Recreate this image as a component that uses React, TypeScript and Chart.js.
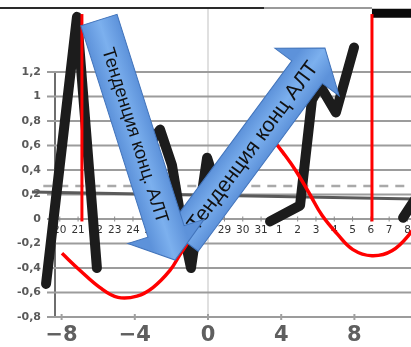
import React, { useEffect, useRef } from 'react';
import { Chart, registerables } from 'chart.js';

Chart.register(...registerables);

// ---------- data ----------
const xTickValues = [-8, -4, 0, 4, 8, 12];
const yTickValues = [-0.8, -0.6, -0.4, -0.2, 0, 0.2, 0.4, 0.6, 0.8, 1, 1.2];
const dayLabels = ['20', '21', '22', '23', '24', '25', '26', '27', '28', '29', '30', '31', '1', '2', '3', '4', '5', '6', '7', '8'];
const dayFirstX = -8.1;

// thick black series (null = break)
const altX = [-8.85, -7.16, -6.07, -4.8, -3.44, -2.62, -1.97, -1.42, -0.93, -0.05, 0.77, 2.0, 3.39, 5.03, 5.68, 6.12, 6.99, 7.98, 9.3, 10.66, 11.31];
const altY = [-0.53, 1.65, -0.4, null, 0.56, 0.73, 0.44, -0.05, -0.4, 0.5, 0.11, null, -0.02, 0.11, 0.97, 1.09, 0.87, 1.4, null, 0.01, 0.16];

// red wave
const waveX = [-7.98, -6.99, -5.9, -4.92, -3.88, -3.01, -2.08, -1.53, -0.49, 0.98, 2.3, 3.0, 3.55, 4.21, 4.86, 5.57, 6.23, 7.05, 7.92, 8.96, 10.05, 11.09, 11.86];
const waveY = [-0.28, -0.42, -0.56, -0.64, -0.63, -0.56, -0.42, -0.29, -0.05, 0.32, 0.58, 0.7, 0.64, 0.52, 0.38, 0.2, 0.03, -0.12, -0.25, -0.3, -0.26, -0.11, 0.06];

// red markers (vertical arrows)
const markerX = [-6.89, 8.96];
const markerBottom = -0.02;
const markerTop = 1.673;

// reference lines
const dashedX = [-9.0, 12.8];
const dashedY = [0.27, 0.27];
const trendX = [-9.62, 12.8];
const trendY = [0.22, 0.159];

// frame pieces at the top
const topBlackX = [-11.6, 3.06];
const topGrayX = [3.06, 8.96];
const topRuleY = [1.722, 1.722];
const topBandX = [8.96, 12.9];
const topBandY = [1.68, 1.68];
const zeroLineX = [0, 0];
const zeroLineY = [-0.8, 1.722];

// trend arrows (data coordinates)
const arrowFromX = [-1.37, -5.96];
const arrowFromY = [-0.171, 1.624];
const arrowToX = [6.39, -1.8];
const arrowToY = [1.396, -0.335];
const arrowText = ['Тенденция конц АЛТ', 'Тенденция конц. АЛТ'];

const PX_PER_X = 18.3;
const xMin = (55 - 208) / PX_PER_X;
const xMax = (440 - 208) / PX_PER_X;
const gridStartX = xMin - 8 / PX_PER_X;

const pts = (xs: number[], ys: (number | null)[]) => xs.map((x, i) => ({ x, y: ys[i] }));

function drawBlockArrow(ctx: CanvasRenderingContext2D, x1: number, y1: number, x2: number, y2: number, text: string, textLen: number, textPos: number) {
  const shaftW = 38, headW = 80, headL = 30;
  const len = Math.hypot(x2 - x1, y2 - y1);
  const ang = Math.atan2(y2 - y1, x2 - x1);
  ctx.save();
  ctx.translate(x1, y1);
  ctx.rotate(ang);
  ctx.beginPath();
  ctx.moveTo(0, -shaftW / 2);
  ctx.lineTo(len - headL, -shaftW / 2);
  ctx.lineTo(len - headL, -headW / 2);
  ctx.lineTo(len, 0);
  ctx.lineTo(len - headL, headW / 2);
  ctx.lineTo(len - headL, shaftW / 2);
  ctx.lineTo(0, shaftW / 2);
  ctx.closePath();
  const g = ctx.createLinearGradient(0, -shaftW / 2, 0, shaftW / 2);
  g.addColorStop(0, '#5d92da');
  g.addColorStop(0.5, '#7cb0ee');
  g.addColorStop(1, '#5d92da');
  ctx.fillStyle = g;
  ctx.fill();
  ctx.strokeStyle = '#4274bb';
  ctx.lineWidth = 1;
  ctx.stroke();
  ctx.font = '20px "Liberation Sans", Arial, sans-serif';
  const w = ctx.measureText(text).width;
  const size = 20 * textLen / w;
  ctx.font = `${size.toFixed(1)}px "Liberation Sans", Arial, sans-serif`;
  ctx.fillStyle = '#111';
  ctx.textAlign = 'center';
  ctx.textBaseline = 'middle';
  ctx.fillText(text, len * textPos, 1);
  ctx.restore();
}

const arrowPlugin = {
  id: 'trendArrows',
  afterDatasetsDraw(chart: any) {
    const { ctx } = chart;
    const xs = chart.scales.x;
    const ys = chart.scales.y;
    const lens = [205, 183];
    const poss = [0.49, 0.48];
    for (let i = 0; i < arrowText.length; i++) {
      drawBlockArrow(
        ctx,
        xs.getPixelForValue(arrowFromX[i]), ys.getPixelForValue(arrowFromY[i]),
        xs.getPixelForValue(arrowToX[i]), ys.getPixelForValue(arrowToY[i]),
        arrowText[i], lens[i], poss[i]
      );
    }
  },
};

const fmtY = (v: number) => String(Math.round(v * 10) / 10).replace('.', ',');
const fmtX = (v: number) => (v < 0 ? '\u2212' + Math.abs(v) : String(v));
const clear = 'rgba(0,0,0,0)';

export default function App() {
  const ref = useRef<HTMLCanvasElement>(null);
  useEffect(() => {
    const base = { pointRadius: 0, clip: false as any, fill: false };
    const gridSets = yTickValues.map((v) => ({
      ...base,
      data: [{ x: gridStartX, y: v }, { x: xMax, y: v }],
      borderColor: '#9c9c9c',
      borderWidth: 2,
      order: 30,
    }));
    const tickMarks = [
      {
        ...base,
        data: xTickValues.map((v) => ({ x: v, y: -0.8 })),
        showLine: false,
        pointRadius: 3,
        pointStyle: 'line',
        rotation: 90,
        pointBorderColor: '#a0a0a0',
        pointBorderWidth: 2,
        order: 29,
      },
      {
        ...base,
        data: dayLabels.map((_, i) => ({ x: dayFirstX + i, y: 0 })),
        showLine: false,
        pointRadius: 2.5,
        pointStyle: 'line',
        rotation: 90,
        pointBorderColor: '#8a8a8a',
        pointBorderWidth: 1,
        order: 29,
      },
    ];
    const datasets: any[] = [
      ...gridSets,
      ...tickMarks,
      { ...base, data: pts(zeroLineX, zeroLineY), borderColor: '#d6d6d6', borderWidth: 1.5, order: 31 },
      { ...base, data: pts(topBlackX, topRuleY), borderColor: '#2a2a2a', borderWidth: 2, order: 19 },
      { ...base, data: pts(topGrayX, topRuleY), borderColor: '#9a9a9a', borderWidth: 2, order: 19 },
      { ...base, data: pts(topBandX, topBandY), borderColor: '#0a0a0a', borderWidth: 9, order: 19 },
      { ...base, data: pts(dashedX, dashedY), borderColor: '#a9a9a9', borderWidth: 2.5, borderDash: [9, 7], order: 15 },
      { ...base, data: pts(trendX, trendY), borderColor: '#5a5a5a', borderWidth: 3, order: 14 },
      { ...base, data: pts(altX, altY), borderColor: '#1c1c1c', borderWidth: 10, borderJoinStyle: 'round', borderCapStyle: 'round', spanGaps: false, tension: 0, order: 10 },
      { ...base, data: pts(waveX, waveY), borderColor: '#ff0000', borderWidth: 3.5, tension: 0.4, order: 5 },
      ...markerX.map((mx) => ({
        ...base,
        data: [{ x: mx, y: markerBottom }, { x: mx, y: markerTop }],
        borderColor: '#ff0000',
        borderWidth: 3,
        pointRadius: [0, 6],
        pointStyle: 'triangle',
        pointBackgroundColor: '#ff0000',
        pointBorderWidth: 0,
        order: 2,
      })),
    ];

    const chart = new Chart(ref.current as HTMLCanvasElement, {
      type: 'line',
      data: { datasets },
      plugins: [arrowPlugin],
      options: {
        responsive: false,
        animation: false,
        devicePixelRatio: 1,
        layout: { padding: { top: 72, right: 40, left: 0, bottom: 0 } },
        plugins: { legend: { display: false }, tooltip: { enabled: false } },
        scales: {
          x: {
            type: 'linear',
            min: xMin,
            max: xMax,
            afterBuildTicks: (s: any) => { s.ticks = xTickValues.map((v) => ({ value: v })); },
            afterFit: (s: any) => { s.height = 30; },
            ticks: {
              callback: (v: any) => fmtX(Number(v)),
              font: { family: 'DejaVu Sans', size: 21, weight: 'bold' },
              color: '#5f5f5f',
              padding: 2,
              maxRotation: 0,
              autoSkip: false,
            },
            grid: { drawOnChartArea: false, tickLength: 4, tickColor: clear, color: clear },
            border: { display: true, color: '#8c8c8c', width: 2 },
          },
          x2: {
            type: 'linear',
            axis: 'x',
            position: { y: 0 },
            min: xMin,
            max: xMax,
            afterBuildTicks: (s: any) => { s.ticks = dayLabels.map((_, i) => ({ value: dayFirstX + i })); },
            ticks: {
              callback: (_v: any, i: number) => dayLabels[i],
              font: { family: 'DejaVu Sans', size: 10.5 },
              color: '#333',
              padding: 2,
              maxRotation: 0,
              autoSkip: false,
            },
            grid: { drawOnChartArea: false, tickLength: 3, tickColor: clear, color: clear },
            border: { display: false },
          },
          y: {
            type: 'linear',
            min: -0.8,
            max: 1.2,
            afterBuildTicks: (s: any) => { s.ticks = yTickValues.map((v) => ({ value: v })); },
            afterFit: (s: any) => { s.width = 55; },
            ticks: {
              callback: (v: any) => fmtY(Number(v)),
              font: { family: 'DejaVu Sans', size: 11, weight: 'bold' },
              color: '#5a5a5a',
              padding: 6,
              autoSkip: false,
            },
            grid: { color: clear, tickColor: clear, tickLength: 8 },
            border: { display: true, color: '#6e6e6e', width: 2 },
          },
        },
      } as any,
    });
    return () => chart.destroy();
  }, []);

  return (
    <div style={{ position: 'fixed', left: 0, top: 0, width: 411, height: 347, overflow: 'hidden', background: '#fff' }}>
      <canvas ref={ref} width={480} height={347} style={{ display: 'block' }} />
    </div>
  );
}
